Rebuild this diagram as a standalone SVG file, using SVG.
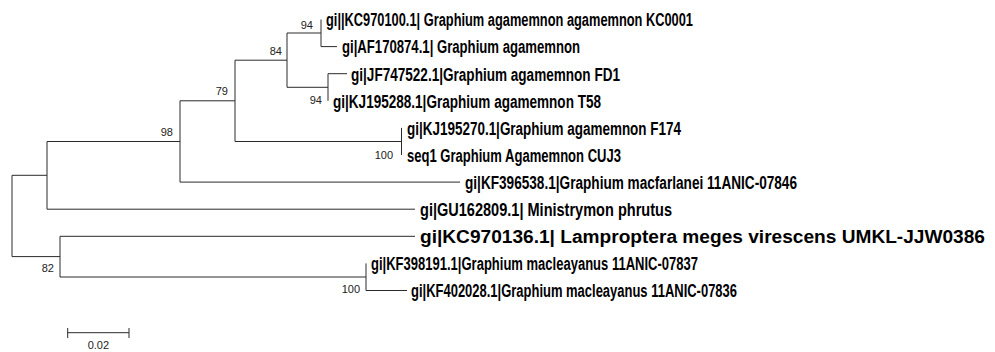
<svg xmlns="http://www.w3.org/2000/svg" width="995" height="352" viewBox="0 0 995 352">
<style>
.br{fill:none;stroke:#2a2a2a;stroke-width:1}
.lf{font-family:"Liberation Sans Narrow","Liberation Sans",Arial,sans-serif;font-weight:bold;font-size:17.5px;fill:#000}
.bs{font-family:"Liberation Sans",Arial,sans-serif;font-size:11px;fill:#222;text-anchor:end}
.sc{font-family:"Liberation Sans",Arial,sans-serif;font-size:11px;fill:#222;text-anchor:middle}
</style>
<rect width="995" height="352" fill="#fff"/>
<g id="connectors">
<path class="br" d="M12,175.3 V256.6 M12,175.3 H47 M12,256.6 H60"/>
<path class="br" d="M47,141.5 V209.2 M47,141.5 H180 M47,209.2 H415"/>
<path class="br" d="M180,100.8 V182.1 M180,100.8 H235 M180,182.1 H460"/>
<path class="br" d="M235,60.2 V141.5 M235,60.2 H287 M235,141.5 H401.5"/>
<path class="br" d="M287,33 V87.3 M287,33 H321 M287,87.3 H328"/>
<path class="br" d="M321,19.5 V46.6 M321,46.6 H337"/>
<path class="br" d="M328,73.7 V100.8 M328,73.7 H347"/>
<path class="br" d="M401.5,127.9 V155"/>
<path class="br" d="M60,236.3 V277 M60,236.3 H415 M60,277 H366"/>
<path class="br" d="M366,263.4 V290.5 M366,290.5 H407"/>
</g>
<g id="leaf-KC970100"><text class="lf" x="326" y="26.3" textLength="367" lengthAdjust="spacingAndGlyphs">gi||KC970100.1| Graphium agamemnon agamemnon KC0001</text></g>
<g id="leaf-AF170874"><text class="lf" x="342" y="53.4" textLength="238" lengthAdjust="spacingAndGlyphs">gi|AF170874.1| Graphium agamemnon</text></g>
<g id="leaf-JF747522"><text class="lf" x="351" y="80.5" textLength="269" lengthAdjust="spacingAndGlyphs">gi|JF747522.1|Graphium agamemnon FD1</text></g>
<g id="leaf-KJ195288"><text class="lf" x="333" y="107.6" textLength="268" lengthAdjust="spacingAndGlyphs">gi|KJ195288.1|Graphium agamemnon T58</text></g>
<g id="leaf-KJ195270"><text class="lf" x="407" y="134.7" textLength="274" lengthAdjust="spacingAndGlyphs">gi|KJ195270.1|Graphium agamemnon F174</text></g>
<g id="leaf-seq1"><text class="lf" x="407" y="161.8" textLength="214" lengthAdjust="spacingAndGlyphs">seq1 Graphium Agamemnon CUJ3</text></g>
<g id="leaf-KF396538"><text class="lf" x="465" y="188.9" textLength="332" lengthAdjust="spacingAndGlyphs">gi|KF396538.1|Graphium macfarlanei 11ANIC-07846</text></g>
<g id="leaf-GU162809"><text class="lf" x="420" y="216" textLength="252" lengthAdjust="spacingAndGlyphs">gi|GU162809.1| Ministrymon phrutus</text></g>
<g id="leaf-KC970136"><text class="lf" x="420" y="243.1" textLength="565" lengthAdjust="spacingAndGlyphs">gi|KC970136.1| Lamproptera meges virescens UMKL-JJW0386</text></g>
<g id="leaf-KF398191"><text class="lf" x="371" y="270.2" textLength="327" lengthAdjust="spacingAndGlyphs">gi|KF398191.1|Graphium macleayanus 11ANIC-07837</text></g>
<g id="leaf-KF402028"><text class="lf" x="411" y="297.3" textLength="326" lengthAdjust="spacingAndGlyphs">gi|KF402028.1|Graphium macleayanus 11ANIC-07836</text></g>
<g id="node-94a"><text class="bs" x="313" y="29">94</text></g>
<g id="node-84"><text class="bs" x="282" y="55">84</text></g>
<g id="node-79"><text class="bs" x="228" y="95">79</text></g>
<g id="node-98"><text class="bs" x="173" y="136">98</text></g>
<g id="node-94b"><text class="bs" x="322" y="104">94</text></g>
<g id="node-100a"><text class="bs" x="393" y="159">100</text></g>
<g id="node-82"><text class="bs" x="54" y="272">82</text></g>
<g id="node-100b"><text class="bs" x="360" y="293">100</text></g>
<g id="scale-bar">
<path class="br" d="M67.7,332.7 H129 M67.7,328 V338 M129,328 V338"/>
<text class="sc" x="98.4" y="349">0.02</text>
</g>
</svg>
